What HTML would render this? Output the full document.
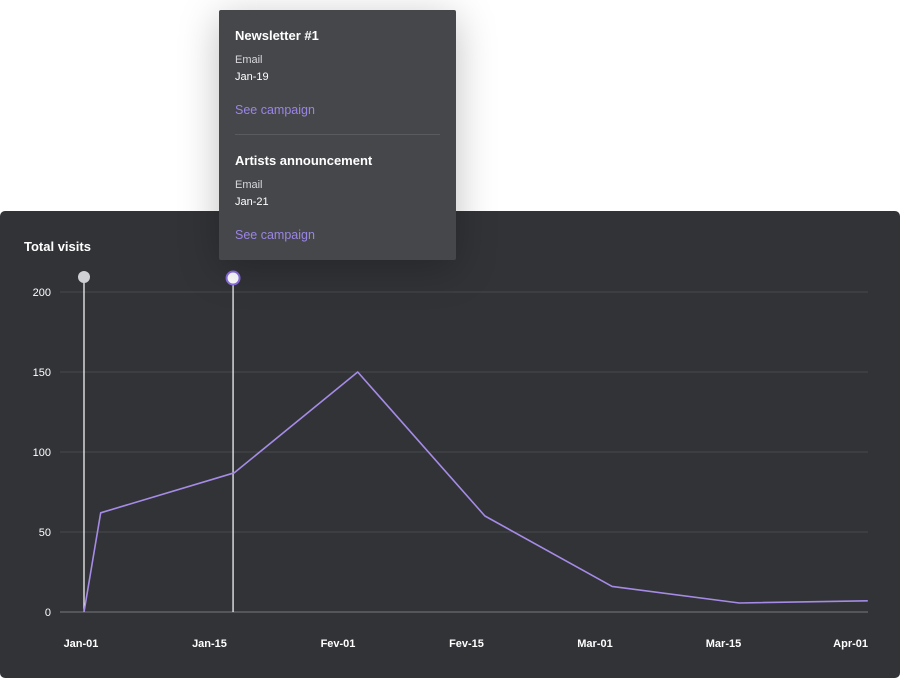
<!DOCTYPE html>
<html><head><meta charset="utf-8"><style>
body{margin:0;width:900px;height:678px;background:#fff;position:relative;overflow:hidden;font-family:"Liberation Sans",sans-serif}
#panel{position:absolute;left:0;top:211px;width:900px;height:467px;background:#323337;border-radius:5px}
#tip{position:absolute;left:219px;top:10px;width:237px;height:250px;background:#46474b;border-radius:2px;box-shadow:0 8px 40px rgba(0,0,0,0.25);color:#fff}
.t{position:absolute;left:16px;white-space:nowrap}
.h{font-weight:bold;font-size:13px}
.s{font-size:11px;color:#d8d8dc}
.l{font-size:12.5px;color:#9b85e4}
</style></head><body>
<div id="panel">
<div style="position:absolute;left:24px;top:28px;color:#fff;font-weight:bold;font-size:13px">Total visits</div>
</div>
<svg id="chart" width="900" height="678" style="position:absolute;left:0;top:0"></svg>
<div id="tip">
<div class="t h" style="top:18px">Newsletter #1</div>
<div class="t s" style="top:44px">Email</div>
<div class="t s" style="top:61px;color:#fff">Jan-19</div>
<div class="t l" style="top:93px">See campaign</div>
<div style="position:absolute;left:16px;right:16px;top:124px;height:1px;background:#5a5b60"></div>
<div class="t h" style="top:143px">Artists announcement</div>
<div class="t s" style="top:169px">Email</div>
<div class="t s" style="top:186px;color:#fff">Jan-21</div>
<div class="t l" style="top:218px">See campaign</div>
</div>
<script>
const xLabels=["Jan-01","Jan-15","Fev-01","Fev-15","Mar-01","Mar-15","Apr-01"];
const yTicks=[0,50,100,150,200];
const pointX=[0,0.13,1.17,2.13,3.12,4.11,5.1,6.1];
const pointY=[0,62,87,150,60,16,5.6,7];
const markers=[0,1.16];
const NS="http://www.w3.org/2000/svg";
const svg=document.getElementById('chart');
const xs=v=>84+v*128.5;
const ys=v=>612-v*1.6;
function mk(t,a){const e=document.createElementNS(NS,t);for(const k in a)e.setAttribute(k,a[k]);svg.appendChild(e);return e;}
yTicks.forEach(v=>{
 const g=mk('line',{x1:60,x2:868,y1:ys(v),y2:ys(v),stroke:v===0?'#77787c':'#48494d','stroke-width':1});
 
 
 const t=mk('text',{x:51,y:ys(v)+4,fill:'#fff','font-size':11,'text-anchor':'end','font-family':'Liberation Sans'});
 t.textContent=v;
 
 
});
xLabels.forEach((s,i)=>{
 const x=i===xLabels.length-1?868:xs(i)-3;
 const t=mk('text',{x:x,y:647,fill:'#fff','font-size':11,'font-weight':'bold','text-anchor':i===xLabels.length-1?'end':'middle','font-family':'Liberation Sans'});
 t.textContent=s;
 
 
});
markers.forEach((m,i)=>{
 const l=mk('line',{x1:xs(m),x2:xs(m),y1:278,y2:612,stroke:'#fff','stroke-width':1.2});
 
 
});
const d=pointX.map((v,i)=>(i?'L':'M')+xs(v).toFixed(1)+','+ys(pointY[i]).toFixed(1)).join(' ');
const p=mk('path',{d:d,fill:'none',stroke:'#a58be6','stroke-width':1.6,'stroke-linejoin':'round'});


const c1=mk('circle',{cx:xs(markers[0]),cy:277,r:6,fill:'#cfd0d3'});


const c2=mk('circle',{cx:xs(markers[1]),cy:278,r:6.5,fill:'#fff',stroke:'#8a6ee0','stroke-width':2});


</script>
</body></html>
